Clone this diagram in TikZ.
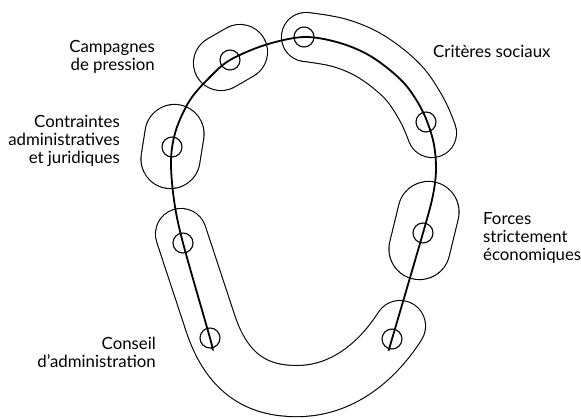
\documentclass[tikz,border=0pt]{standalone}
\usepackage{fontspec}
\setmainfont{Lato}

\begin{document}
\begin{tikzpicture}[x=1pt, y=-1pt,
    band/.style={double, double distance=#1, line width=1.1pt, line cap=round},
    dot/.style={draw, circle, line width=1.1pt, minimum size=20pt, inner sep=0pt},
    lbl/.style={font=\fontsize{16.8}{18}\selectfont, inner sep=0pt}]
    \useasboundingbox (0,0) rectangle (581,418);

    % zones
    \draw[band=58pt] (174.5,134) -- (170.5,159);
    \draw[band=54pt] (221,63) -- (240,52);
    \draw[band=48pt] plot[smooth, tension=0.6] coordinates {(306,37) (340,43) (372,57) (403,82) (422,110) (432,133)};
    \draw[band=60pt] (428.5,212) -- (419.5,249);
    \draw[band=50pt] (181,234) -- (210,322) .. controls (228,378) and (262,392) .. (300,391)
        .. controls (340,390) and (375,365) .. (400,326);

    % points
    \foreach \n/\x/\y in {pa/210/338, pb/183/243, pc/172/147, pd/230/60,
                          pe/304/37, pf/426/122, pg/423/233, ph/392/339}
      \node[dot] (\n) at (\x,\y) {};

    % boucle
    \draw[line width=1.8pt] plot[smooth, tension=0.55] coordinates {(212,348) (pa.center) (pb.center)
        (174,200) (171,160) (176,130) (190,100) (210,77) (pd.center) (265,45) (pe.center)
        (340,43) (372,57) (403,82) (422,110) (433,140) (436,168) (433,195) (pg.center)
        (ph.center) (389,349)};

    \node[lbl, align=right, anchor=base east] (campagnes) at (155,70) {Campagnes\\de pression};
    \node[lbl, align=right, anchor=base east] (contraintes) at (120,163) {Contraintes\\administratives\\et juridiques};
    \node[lbl, anchor=base west] (criteres) at (433,57) {Critères sociaux};
    \node[lbl, align=left, anchor=base west] (forces) at (483,260) {Forces\\strictement\\économiques};
    \node[lbl, align=right, anchor=base east] (conseil) at (156,367) {Conseil\\d'administration};
\end{tikzpicture}
\end{document}
